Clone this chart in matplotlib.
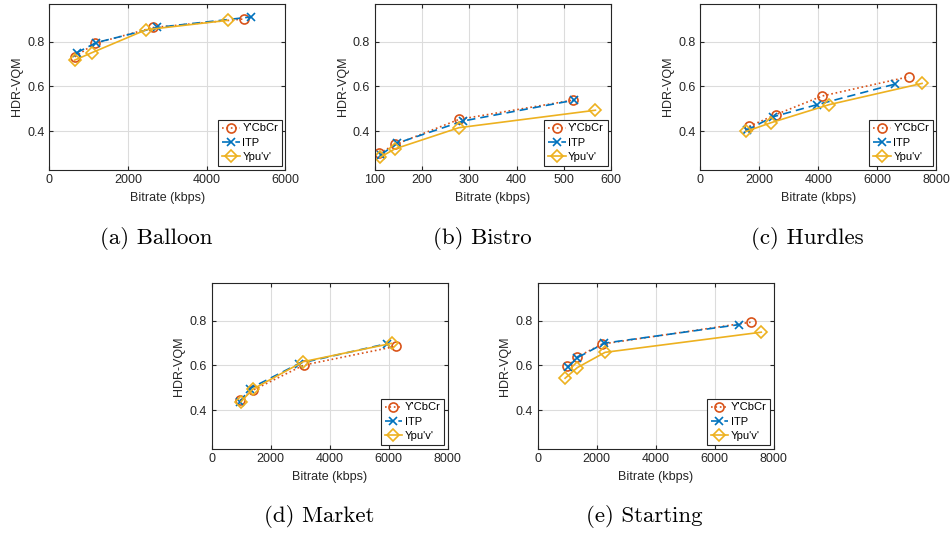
import matplotlib
matplotlib.use("Agg")
import matplotlib.pyplot as plt

plt.rcParams['font.family'] = ['Liberation Sans', 'DejaVu Sans']

# Balloon
balloon_ycbcr_x = [654, 1163, 2649, 4941]
balloon_ycbcr_y = [0.732, 0.792, 0.863, 0.901]
balloon_itp_x = [696, 1188, 2733, 5127]
balloon_itp_y = [0.750, 0.795, 0.863, 0.910]
balloon_ypuv_x = [645, 1078, 2462, 4533]
balloon_ypuv_y = [0.717, 0.750, 0.853, 0.895]

# Bistro
bistro_ycbcr_x = [109, 143, 278, 519]
bistro_ycbcr_y = [0.301, 0.340, 0.452, 0.538]
bistro_itp_x = [113, 147, 287, 522]
bistro_itp_y = [0.295, 0.346, 0.445, 0.538]
bistro_ypuv_x = [111, 142, 278, 567]
bistro_ypuv_y = [0.283, 0.320, 0.415, 0.493]

# Hurdles
hurdles_ycbcr_x = [1659, 2551, 4142, 7077]
hurdles_ycbcr_y = [0.421, 0.473, 0.557, 0.643]
hurdles_itp_x = [1569, 2449, 3962, 6603]
hurdles_itp_y = [0.403, 0.463, 0.518, 0.610]
hurdles_ypuv_x = [1546, 2393, 4368, 7517]
hurdles_ypuv_y = [0.398, 0.437, 0.518, 0.613]

# Market
market_ycbcr_x = [958, 1386, 3121, 6254]
market_ycbcr_y = [0.443, 0.488, 0.601, 0.685]
market_itp_x = [958, 1296, 2963, 5950]
market_itp_y = [0.437, 0.496, 0.608, 0.697]
market_ypuv_x = [992, 1386, 3099, 6096]
market_ypuv_y = [0.437, 0.493, 0.616, 0.698]

# Starting
starting_ycbcr_x = [1007, 1346, 2183, 7240]
starting_ycbcr_y = [0.596, 0.638, 0.695, 0.793]
starting_itp_x = [1041, 1346, 2262, 6833]
starting_itp_y = [0.594, 0.634, 0.699, 0.782]
starting_ypuv_x = [928, 1346, 2285, 7579]
starting_ypuv_y = [0.542, 0.590, 0.658, 0.748]

captions = ['(a) Balloon', '(b) Bistro', '(c) Hurdles', '(d) Market', '(e) Starting']
xlims = [(0, 6000), (100, 600), (0, 8000), (0, 8000), (0, 8000)]
xticks = [[0, 2000, 4000, 6000], [100, 200, 300, 400, 500, 600],
          [0, 2000, 4000, 6000, 8000], [0, 2000, 4000, 6000, 8000],
          [0, 2000, 4000, 6000, 8000]]

panels = [
    (balloon_ycbcr_x, balloon_ycbcr_y, balloon_itp_x, balloon_itp_y, balloon_ypuv_x, balloon_ypuv_y),
    (bistro_ycbcr_x, bistro_ycbcr_y, bistro_itp_x, bistro_itp_y, bistro_ypuv_x, bistro_ypuv_y),
    (hurdles_ycbcr_x, hurdles_ycbcr_y, hurdles_itp_x, hurdles_itp_y, hurdles_ypuv_x, hurdles_ypuv_y),
    (market_ycbcr_x, market_ycbcr_y, market_itp_x, market_itp_y, market_ypuv_x, market_ypuv_y),
    (starting_ycbcr_x, starting_ycbcr_y, starting_itp_x, starting_itp_y, starting_ypuv_x, starting_ypuv_y),
]

c_red = '#D95319'
c_blue = '#0072BD'
c_yel = '#EDB120'

fig = plt.figure(figsize=(9.51, 5.33), dpi=100)

W, H = 951, 533
# left px, top px of each axes
boxes = [(49.3, 4), (375, 4), (700.3, 4), (211.7, 283), (537.7, 283)]
aw, ah = 236, 165.5

for i, (lx, ty) in enumerate(boxes):
    ax = fig.add_axes([lx / W, (H - ty - ah) / H, aw / W, ah / H])
    xa, ya, xb, yb, xc, yc = panels[i]
    ax.plot(xa, ya, linestyle=':', color=c_red, marker='o', mfc='none', ms=6.5, mew=1.2, lw=1.2, label="Y'CbCr")
    ax.plot(xb, yb, linestyle=(0, (5, 3)), color=c_blue, marker='x', ms=6, mew=1.2, lw=1.2, label='ITP')
    ax.plot(xc, yc, linestyle='-', color=c_yel, marker='D', mfc='none', ms=6, mew=1.2, lw=1.2, label="Ypu'v'")
    ax.set_xlim(xlims[i])
    ax.set_xticks(xticks[i])
    ax.set_ylim(0.228, 0.968)
    ax.set_yticks([0.4, 0.6, 0.8])
    ax.set_yticklabels(['0.4', '0.6', '0.8'])
    ax.grid(True, color='#dcdcdc', lw=0.8)
    ax.set_axisbelow(True)
    ax.tick_params(direction='in', top=True, right=True, labelsize=9, colors='#262626', length=3)
    for s in ax.spines.values():
        s.set_color('#262626')
        s.set_linewidth(0.8)
    ax.set_xlabel('Bitrate (kbps)', fontsize=9, color='#262626', labelpad=4)
    ax.set_ylabel('HDR-VQM', fontsize=9, color='#262626', labelpad=3)
    leg = ax.legend(loc='lower right', fontsize=8, handlelength=1.6, handletextpad=0.2,
                    borderpad=0.35, labelspacing=0.4, borderaxespad=0.3, fancybox=False,
                    framealpha=1)
    leg.get_frame().set_edgecolor('#262626')
    leg.get_frame().set_linewidth(0.8)
    cx = (lx + aw / 2 - 11) / W
    cy = (H - (ty + 234)) / H
    fig.text(cx, cy, captions[i], ha='center', va='center', fontsize=16.5, family='cmr10')

fig.savefig('out.png', dpi=100)
